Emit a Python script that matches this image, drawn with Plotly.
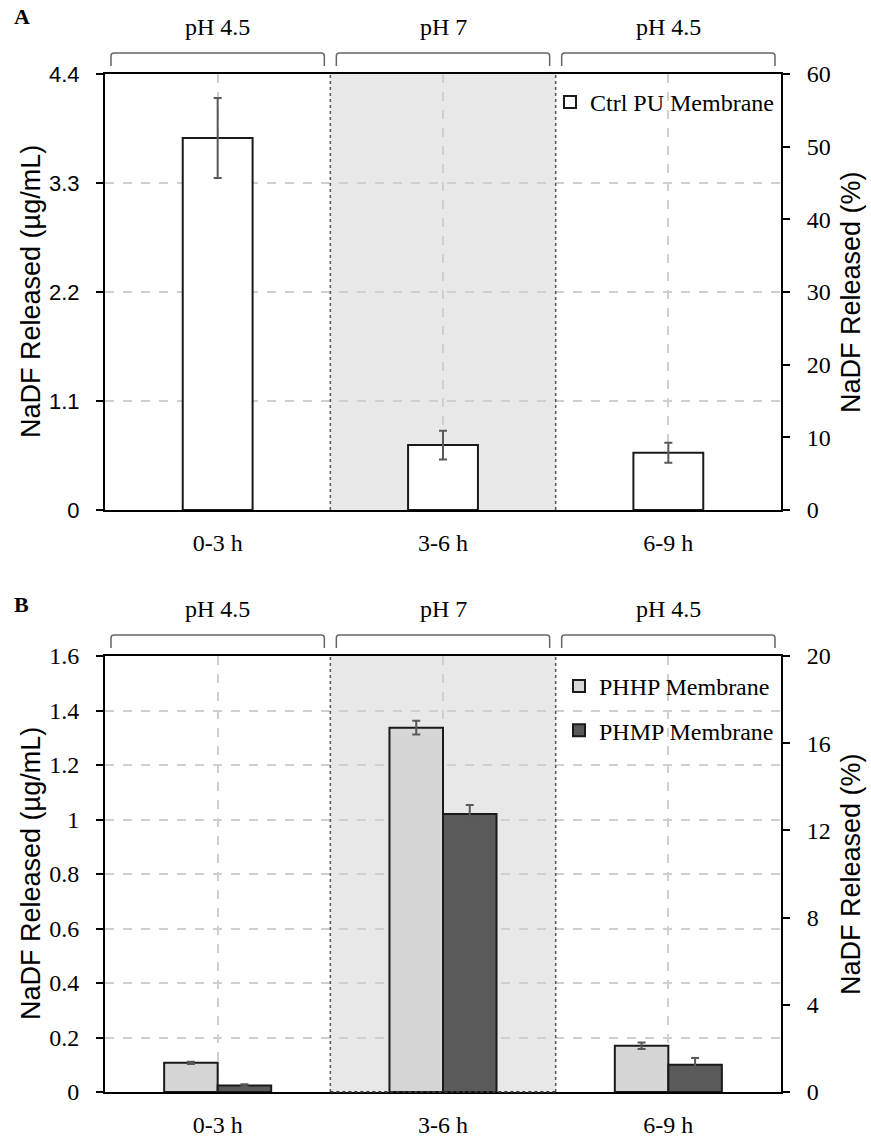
import plotly.graph_objects as go

# ---- data ----
periods = ["0-3 h", "3-6 h", "6-9 h"]
ph_labels = ["pH 4.5", "pH 7", "pH 4.5"]

ctrl_release = [3.754, 0.655, 0.578]
ctrl_err = [0.404, 0.145, 0.100]

phhp_release = [0.107, 1.337, 0.170]
phhp_err = [0.004, 0.025, 0.012]
phmp_release = [0.024, 1.020, 0.100]
phmp_err = [0.004, 0.033, 0.025]

# ---- layout geometry (figure pixels) ----
W, H = 871, 1137
X0, X1 = 105, 781
A_TOP, A_BOT = 74, 510
B_TOP, B_BOT = 656, 1092


def py(p):
    return 1 - p / H


def px(p):
    return p / W


SERIF = "Liberation Serif, Times New Roman, serif"
SANS = "Liberation Sans, Arial, sans-serif"
GRID = "#cfcfcf"
ERR = "#595959"

fig = go.Figure()

fig.add_trace(go.Bar(
    x=periods, y=ctrl_release, name="Ctrl PU Membrane",
    xaxis="x", yaxis="y", width=0.31, showlegend=True,
    marker=dict(color="white", line=dict(color="#1a1a1a", width=2)),
    error_y=dict(type="data", array=ctrl_err, color=ERR, thickness=2, width=4),
    legend="legend",
))
fig.add_trace(go.Bar(
    x=periods, y=phhp_release, name="PHHP Membrane",
    xaxis="x2", yaxis="y3", legendgroup="phhp", showlegend=True,
    marker=dict(color="#d6d6d6", line=dict(color="#1a1a1a", width=2)),
    error_y=dict(type="data", array=phhp_err, color=ERR, thickness=2, width=4),
    legend="legend2",
))
fig.add_trace(go.Bar(
    x=periods, y=phmp_release, name="PHMP Membrane",
    xaxis="x2", yaxis="y3", legendgroup="phmp", showlegend=True,
    marker=dict(color="#5a5a5a", line=dict(color="#1a1a1a", width=2)),
    error_y=dict(type="data", array=phmp_err, color=ERR, thickness=2, width=4),
    legend="legend2",
))
# empty traces so the secondary (percent) axes get drawn
for xa, ya in (("x", "y2"), ("x2", "y4")):
    fig.add_trace(go.Scatter(x=[], y=[], xaxis=xa, yaxis=ya, showlegend=False,
                             hoverinfo="skip", mode="markers"))

xdom = [px(X0), px(X1)]
ydomA = [py(A_BOT), py(A_TOP)]
ydomB = [py(B_BOT), py(B_TOP)]

common_x = dict(
    type="category", domain=xdom, showline=True, mirror=True, automargin=False,
    linecolor="black", linewidth=2, showgrid=True, gridcolor=GRID,
    griddash="dash", gridwidth=1.5, ticks="", ticklabelstandoff=10,
    tickfont=dict(family=SERIF, size=24, color="black"),
    range=[-0.5, 2.5], zeroline=False, categoryorder="array", categoryarray=periods,
)
left_y = dict(
    showline=True, linecolor="black", linewidth=2, ticks="outside", automargin=False,
    ticklen=7, tickwidth=2, tickcolor="black", showgrid=True,
    gridcolor=GRID, griddash="dash", gridwidth=1.5, zeroline=False,
    ticklabelstandoff=12,
)
right_y = dict(
    side="right", showline=True, linecolor="black", linewidth=2, automargin=False,
    ticks="outside", ticklen=7, tickwidth=2, tickcolor="black",
    showgrid=False, zeroline=False, ticklabelstandoff=12,
    tickfont=dict(family=SERIF, size=24, color="black"),
)

fig.update_layout(
    width=W, height=H,
    margin=dict(l=0, r=0, t=0, b=0, pad=0, autoexpand=False),
    paper_bgcolor="white", plot_bgcolor="white",
    showlegend=True,
    barmode="group", bargap=0.525, bargroupgap=0,
    xaxis=dict(anchor="y", **common_x),
    yaxis=dict(domain=ydomA, anchor="x", range=[0, 4.4], tickvals=[0, 1.1, 2.2, 3.3, 4.4],
               tickfont=dict(family=SANS, size=22, color="black"), **left_y),
    yaxis2=dict(domain=ydomA, anchor="x", overlaying="y", range=[0, 60], dtick=10, **right_y),
    xaxis2=dict(anchor="y3", **common_x),
    yaxis3=dict(domain=ydomB, anchor="x2", range=[0, 1.6],
                tickvals=[0, 0.2, 0.4, 0.6, 0.8, 1, 1.2, 1.4, 1.6],
                ticktext=["0", "0.2", "0.4", "0.6", "0.8", "1", "1.2", "1.4", "1.6"],
                tickfont=dict(family=SERIF, size=24, color="black"), **left_y),
    yaxis4=dict(domain=ydomB, anchor="x2", overlaying="y3", range=[0, 20], dtick=4, **right_y),
    legend=dict(x=px(779), xanchor="right", y=py(80), yanchor="top",
                bgcolor="rgba(0,0,0,0)", itemwidth=30,
                font=dict(family=SERIF, size=24, color="black")),
    legend2=dict(x=px(779), xanchor="right", y=py(664), yanchor="top",
                 bgcolor="rgba(0,0,0,0)", itemwidth=30, tracegroupgap=10,
                 font=dict(family=SERIF, size=24, color="black")),
)

shapes = []
annotations = []
cat_w = (X1 - X0) / len(periods)

for xa, ya, top, bot, bottom_dotted in (("x", "y", A_TOP, A_BOT, False),
                                         ("x2", "y3", B_TOP, B_BOT, True)):
    # shaded neutral-pH window
    shapes.append(dict(type="rect", xref=xa, yref=ya + " domain", x0=0.5, x1=1.5,
                       y0=0, y1=1, fillcolor="#e8e8e8", line=dict(width=0), layer="below"))
    for xv in (0.5, 1.5):
        shapes.append(dict(type="line", xref=xa, yref=ya + " domain", x0=xv, x1=xv,
                           y0=0, y1=1, line=dict(color="#555555", width=1.5, dash="dot")))
    if bottom_dotted:
        shapes.append(dict(type="line", xref=xa, yref=ya + " domain", x0=0.5, x1=1.5,
                           y0=0, y1=0, line=dict(color="#333333", width=2, dash="dot")))
    # brackets and pH labels above each interval
    yb = top - 21
    ye = top - 8
    rx, ry = 3 / W, 3 / H
    for i, lab in enumerate(ph_labels):
        a = X0 + i * cat_w + 6
        b = X0 + (i + 1) * cat_w - 6
        xa0, xa1 = px(a), px(b)
        yt, yend = py(yb), py(ye)
        path = (f"M{xa0},{yend} L{xa0},{yt - ry} Q{xa0},{yt} {xa0 + rx},{yt} "
                f"L{xa1 - rx},{yt} Q{xa1},{yt} {xa1},{yt - ry} L{xa1},{yend}")
        shapes.append(dict(type="path", xref="paper", yref="paper", path=path,
                           line=dict(color="#666666", width=1.5)))
        annotations.append(dict(x=px((a + b) / 2), y=py(top - 47), xref="paper", yref="paper",
                                xanchor="center", yanchor="middle",
                                text=lab, showarrow=False,
                                font=dict(family=SERIF, size=24, color="black")))
    mid = (top + bot) / 2
    annotations.append(dict(x=px(31), y=py(mid), xref="paper", yref="paper",
                            xanchor="center", yanchor="middle",
                            text="NaDF Released (µg/mL)", textangle=-90, showarrow=False,
                            font=dict(family=SANS, size=27, color="black")))
    annotations.append(dict(x=px(851), y=py(mid), xref="paper", yref="paper",
                            xanchor="center", yanchor="middle",
                            text="NaDF Released (%)", textangle=-90, showarrow=False,
                            font=dict(family=SANS, size=27, color="black")))

annotations.append(dict(x=px(12), y=py(17), xref="paper", yref="paper", text="<b>A</b>",
                        xanchor="left", yanchor="middle", showarrow=False,
                        font=dict(family=SERIF, size=22, color="black")))
annotations.append(dict(x=px(12), y=py(604), xref="paper", yref="paper", text="<b>B</b>",
                        xanchor="left", yanchor="middle", showarrow=False,
                        font=dict(family=SERIF, size=22, color="black")))

fig.update_layout(shapes=shapes, annotations=annotations)
fig.write_html("out.html")
